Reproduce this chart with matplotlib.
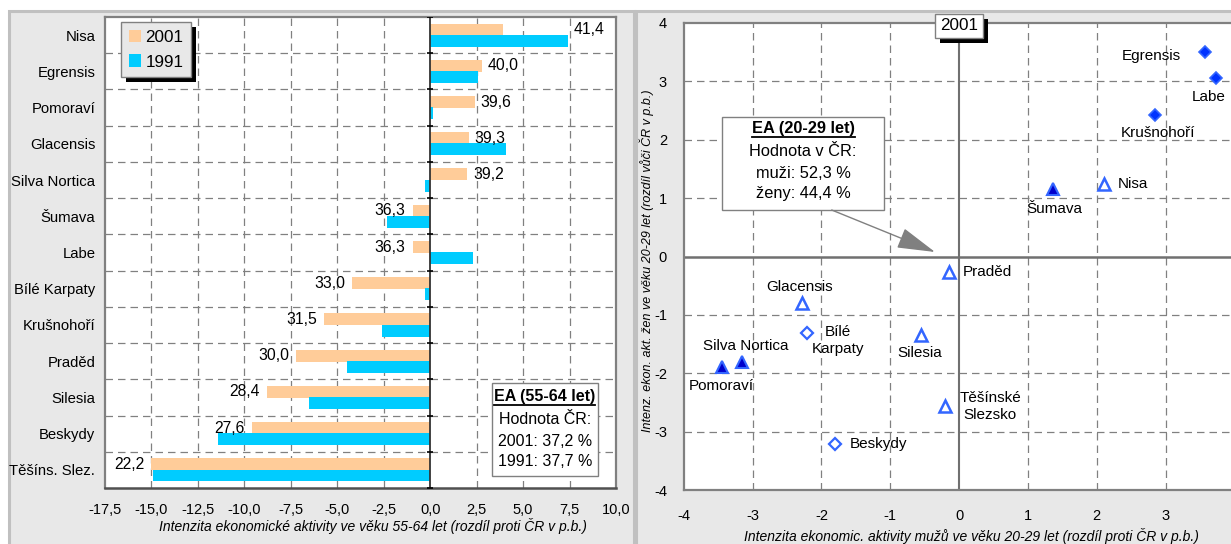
import matplotlib
matplotlib.use('Agg')
import matplotlib.pyplot as plt
import numpy as np
from matplotlib.patches import Rectangle, Patch
from matplotlib.lines import Line2D
from matplotlib.ticker import FuncFormatter
import matplotlib.patheffects as pe

plt.rcParams['font.family'] = ['Liberation Sans', 'DejaVu Sans']
plt.rcParams['axes.unicode_minus'] = False

# ---------------- data ----------------
regions = ["Nisa", "Egrensis", "Pomoraví", "Glacensis", "Silva Nortica", "Šumava",
           "Labe", "Bílé Karpaty", "Krušnohoří", "Praděd", "Silesia", "Beskydy",
           "Těšíns. Slez."]
diff_2001 = [3.9, 2.8, 2.4, 2.1, 2.0, -0.95, -0.95, -4.2, -5.7, -7.2, -8.8, -9.6, -15.0]
diff_1991 = [7.4, 2.6, 0.15, 4.1, -0.3, -2.3, 2.3, -0.3, -2.6, -4.5, -6.5, -11.4, -14.9]
value_2001 = ["41,4", "40,0", "39,6", "39,3", "39,2", "36,3", "36,3", "33,0", "31,5",
              "30,0", "28,4", "27,6", "22,2"]
series_labels = ["2001", "1991"]
x_ticks_left = [-17.5, -15.0, -12.5, -10.0, -7.5, -5.0, -2.5, 0.0, 2.5, 5.0, 7.5, 10.0]

sc_names = ["Egrensis", "Labe", "Krušnohoří", "Šumava", "Nisa", "Praděd", "Glacensis",
            "Bílé\nKarpaty", "Silesia", "Silva Nortica", "Pomoraví", "Těšínské\nSlezsko",
            "Beskydy"]
sc_men = [3.57, 3.73, 2.85, 1.37, 2.10, -0.15, -2.28, -2.21, -0.55, -3.16, -3.45, -0.20, -1.80]
sc_women = [3.51, 3.05, 2.43, 1.16, 1.24, -0.27, -0.80, -1.31, -1.35, -1.81, -1.90, -2.56, -3.21]
sc_type = ["D_fill", "D_fill", "D_fill", "T_fill", "T_open", "T_open", "T_open",
           "D_open", "T_open", "T_fill", "T_fill", "T_open", "D_open"]
x_ticks_right = [-4, -3, -2, -1, 0, 1, 2, 3]
y_ticks_right = [-4, -3, -2, -1, 0, 1, 2, 3, 4]

# ---------------- layout helpers ----------------
W, H = 1231, 544
fig = plt.figure(figsize=(W / 100, H / 100), dpi=100)
fig.patch.set_facecolor('white')


def rect(x0, y0, x1, y1):
    return [x0 / W, 1 - y1 / H, (x1 - x0) / W, (y1 - y0) / H]


def fig_px(x, y):
    return (x / W, 1 - y / H)


# panel backgrounds
for (x0, x1) in [(8.5, 634.0), (635.5, 1260)]:
    r = Rectangle(fig_px(x0, 600), (x1 - x0) / W, (600 - 10.5) / H,
                  transform=fig.transFigure, facecolor='#e8e8e8',
                  edgecolor='#c0c0c0', lw=2.2, zorder=-5)
    fig.add_artist(r)

GRID = dict(color='#808080', lw=0.9, ls=(0, (6, 4)))
ORANGE = '#FFCC99'
CYAN = '#00CCFF'

# ---------------- left chart ----------------
ax1 = fig.add_axes(rect(105, 17, 616, 488))
ax1.set_facecolor('white')
y = np.arange(len(regions))
h = 0.33
ax1.barh(y - 0.155, diff_2001, height=h, color=ORANGE, edgecolor='none', zorder=3)
ax1.barh(y + 0.155, diff_1991, height=h, color=CYAN, edgecolor='none', zorder=3)
ax1.set_xlim(-17.5, 10)
ax1.set_ylim(len(regions) - 0.5, -0.5)
ax1.set_yticks(y)
ax1.set_yticklabels(regions, fontsize=10.7)
ax1.set_xticks(x_ticks_left)
ax1.xaxis.set_major_formatter(FuncFormatter(lambda v, p: f"{v:.1f}".replace('.', ',').replace('-0,0', '0,0')))
ax1.tick_params(axis='x', length=0, pad=11, labelsize=10.5)
ax1.tick_params(axis='y', length=0, pad=7)
for xv in x_ticks_left[1:-1]:
    if xv != 0:
        ax1.axvline(xv, zorder=1, **GRID)
for yb in np.arange(0.5, len(regions) - 0.5, 1):
    ax1.axhline(yb, zorder=1, **GRID)
ax1.axvline(0, color='#333333', lw=1.3, zorder=4)
ax1.plot(np.zeros(len(regions) + 1), np.arange(-0.5, len(regions)), ls='none',
         marker='_', ms=5, mew=1.2, color='black', zorder=5)
for s in ['top', 'right', 'left']:
    ax1.spines[s].set_color('#808080')
    ax1.spines[s].set_linewidth(1.6)
ax1.spines['bottom'].set_color('#505050')
ax1.spines['bottom'].set_linewidth(1.8)

# value labels
for i, (a, b, lab) in enumerate(zip(diff_2001, diff_1991, value_2001)):
    anchor = a
    if a > 0 and b > a and i == 0:
        anchor = b
    yl = i - 0.15
    if anchor >= 0:
        ax1.annotate(lab, (anchor, yl), xytext=(4, 0), textcoords='offset points',
                     ha='left', va='center', fontsize=11.3, zorder=6)
    else:
        ax1.annotate(lab, (anchor, yl), xytext=(-5, 0), textcoords='offset points',
                     ha='right', va='center', fontsize=11.3, zorder=6)

leg = ax1.legend(handles=[Patch(facecolor=ORANGE, edgecolor='none'),
                          Patch(facecolor=CYAN, edgecolor='none')],
                 labels=series_labels, loc='upper left', bbox_to_anchor=(0.031, 0.989),
                 borderaxespad=0, fontsize=12.3, frameon=True, fancybox=False,
                 edgecolor='#808080', facecolor='#e8e8e8', framealpha=1,
                 handlelength=0.75, handleheight=0.75, handletextpad=0.25,
                 labelspacing=0.55, borderpad=0.45)
leg.get_frame().set_linewidth(1.0)
leg.get_frame().set_path_effects([pe.SimplePatchShadow(offset=(3.5, -3.5), shadow_rgbFace='black', alpha=1.0), pe.Normal()])
leg.set_zorder(10)

# ---------------- right chart ----------------
ax2 = fig.add_axes(rect(683.7, 23, 1234.4, 490))
ax2.set_facecolor('white')
ax2.set_xlim(-4, 4)
ax2.set_ylim(-4, 4)
ax2.set_xticks(x_ticks_right)
ax2.set_yticks(y_ticks_right)
ax2.tick_params(axis='both', length=0, labelsize=10.5)
ax2.tick_params(axis='x', pad=14)
ax2.tick_params(axis='y', pad=12)
for v in y_ticks_right[1:-1]:
    if v != 0:
        ax2.axvline(v, zorder=1, **GRID)
        ax2.axhline(v, zorder=1, **GRID)
ax2.axvline(0, color='#707070', lw=1.5, zorder=2)
ax2.axhline(0, color='#707070', lw=1.8, zorder=2)
for s in ['top', 'right', 'left', 'bottom']:
    ax2.spines[s].set_color('#808080')
    ax2.spines[s].set_linewidth(1.6)

style = {
    "D_fill": dict(marker='D', ms=6.5, mfc='#0033FF', mec='#3366FF', mew=1.2),
    "D_open": dict(marker='D', ms=6.0, mfc='white', mec='#3366FF', mew=1.6),
    "T_fill": dict(marker='^', ms=8.5, mfc='#0000CC', mec='#3366FF', mew=1.5),
    "T_open": dict(marker='^', ms=8.0, mfc='white', mec='#3366FF', mew=1.8),
}
for xm, yw, t in zip(sc_men, sc_women, sc_type):
    ax2.plot([xm], [yw], ls='none', zorder=5, **style[t])

label_offsets = {
    "Egrensis": (-38.4, -2.9, 'center'),
    "Labe": (-4.8, -13.7, 'center'),
    "Krušnohoří": (1.9, -13.0, 'center'),
    "Šumava": (0.5, -14.4, 'center'),
    "Nisa": (10.4, 0, 'left'),
    "Praděd": (9.9, 0, 'left'),
    "Glacensis": (-1.7, 12.0, 'center'),
    "Bílé\nKarpaty": (22.5, -5.4, 'center'),
    "Silesia": (-1.4, -12.7, 'center'),
    "Silva Nortica": (3.1, 11.5, 'center'),
    "Pomoraví": (0, -13.2, 'center'),
    "Těšínské\nSlezsko": (32.4, -0.5, 'center'),
    "Beskydy": (10.3, 0, 'left'),
}
for name, xm, yw in zip(sc_names, sc_men, sc_women):
    dx, dy, ha = label_offsets[name]
    ax2.annotate(name, (xm, yw), xytext=(dx, dy), textcoords='offset points',
                 ha=ha, va='center', fontsize=11, multialignment='center',
                 linespacing=1.25, zorder=6)

t2001 = ax2.text(0, 0.9936, "2001", transform=ax2.get_xaxis_transform(), ha='center',
                 va='center', fontsize=12.3, zorder=10, clip_on=False,
                 bbox=dict(boxstyle='square,pad=0.28', fc='white', ec='#808080', lw=1.0))
t2001.get_bbox_patch().set_path_effects([pe.SimplePatchShadow(offset=(3.5, -3.5), shadow_rgbFace='black', alpha=1.0), pe.Normal()])

# ---------------- overlay (annotations, axis titles) ----------------
ov = fig.add_axes([0, 0, 1, 1])
ov.set_xlim(0, W)
ov.set_ylim(H, 0)
ov.set_axis_off()
ov.set_zorder(20)

ov.text(373, 526.5, "Intenzita ekonomické aktivity ve věku 55-64 let (rozdíl proti ČR v p.b.)",
        ha='center', va='center', fontsize=10, style='italic')
ov.text(971, 536.5, "Intenzita ekonomic. aktivity mužů ve věku 20-29 let (rozdíl proti ČR v p.b.)",
        ha='center', va='center', fontsize=10, style='italic')
ov.text(647, 261, "Intenz. ekon. akt. žen ve věku 20-29 let (rozdíl vůči ČR v p.b.)",
        ha='center', va='center', fontsize=9, style='italic', rotation=90)

boxes = [
    dict(x0=491.7, y0=383, x1=598, y1=476,
         lines=["EA (55-64 let)", "Hodnota ČR:", "2001: 37,2 %", "1991: 37,7 %"],
         ys=[396.7, 419, 441, 461], fs=11.5),
    dict(x0=721.7, y0=116.7, x1=884.3, y1=210,
         lines=["EA (20-29 let)", "Hodnota v ČR:", "muži: 52,3 %", "ženy: 44,4 %"],
         ys=[128.5, 152, 173, 193.3], fs=11.8),
]
title_texts = []
for b in boxes:
    ov.add_patch(Rectangle((b['x0'], b['y0']), b['x1'] - b['x0'], b['y1'] - b['y0'],
                           facecolor='white', edgecolor='#808080', lw=1.0))
    cx = (b['x0'] + b['x1']) / 2
    for k, (ln, yy) in enumerate(zip(b['lines'], b['ys'])):
        t = ov.text(cx, yy, ln, ha='center', va='center', fontsize=b['fs'],
                    fontweight='bold' if k == 0 else 'normal')
        if k == 0:
            title_texts.append(t)

ov.annotate('', xy=(935, 252), xytext=(831.7, 210),
            arrowprops=dict(arrowstyle='-|>,head_length=1.2,head_width=0.33',
                            color='#808080', lw=1.0, mutation_scale=20,
                            shrinkA=0, shrinkB=0))

fig.canvas.draw()
r = fig.canvas.get_renderer()
for t in title_texts:
    bb = t.get_window_extent(r)
    yl = H - bb.y0 + 0.5
    ov.add_line(Line2D([bb.x0, bb.x1], [yl, yl], color='black', lw=1.3))

fig.savefig('out.png', dpi=100)
